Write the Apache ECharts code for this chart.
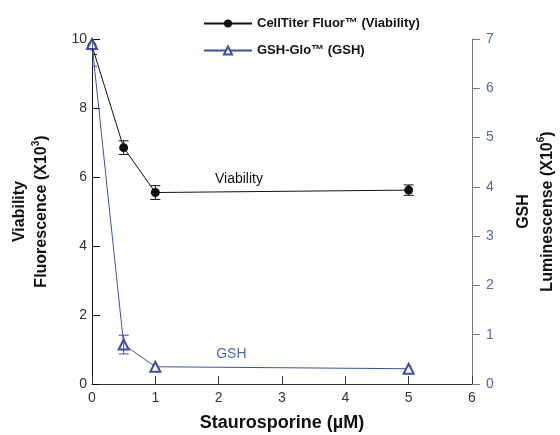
<!DOCTYPE html>
<html><head><meta charset="utf-8">
<script src="https://cdn.jsdelivr.net/npm/echarts@6/dist/echarts.min.js"></script>
<style>html,body{margin:0;padding:0;background:#fff}#c{width:560px;height:435px}</style>
</head><body><div id="c"></div>
<script>
const doses = [0, 0.5, 1, 5];
const viability = [9.8, 6.85, 5.55, 5.62];
const viabilityErr = [0.25, 0.2, 0.2, 0.15];
const gsh = [6.9, 0.8, 0.35, 0.31];
const gshErr = [0.45, 0.19, 0, 0];
const xTicks = [0, 1, 2, 3, 4, 5, 6];

const BLUE = '#3b4fa8';
const LBLUE = '#5366b8';
const NARROW = '"Liberation Sans Narrow", "Liberation Sans", Arial, sans-serif';
const SANS = '"Liberation Sans", Arial, sans-serif';

function errSeries(vals, errs, yIdx, color) {
  return {
    type: 'custom', yAxisIndex: yIdx, silent: true, z: 5, clip: true,
    data: doses.map((d, i) => [d, vals[i], errs[i]]),
    renderItem: function (params, api) {
      const x = api.value(0), y = api.value(1), e = api.value(2);
      if (!e) return null;
      const top = api.coord([x, y + e]);
      const bot = api.coord([x, y - e]);
      const w = 5;
      const st = {stroke: color, lineWidth: 1};
      return {type: 'group', children: [
        {type: 'line', shape: {x1: top[0], y1: top[1], x2: bot[0], y2: bot[1]}, style: st},
        {type: 'line', shape: {x1: top[0] - w, y1: top[1], x2: top[0] + w, y2: top[1]}, style: st},
        {type: 'line', shape: {x1: bot[0] - w, y1: bot[1], x2: bot[0] + w, y2: bot[1]}, style: st}
      ]};
    }
  };
}

function richName(size, lh) {
  return {rich: {
    b: {fontFamily: NARROW, fontWeight: 'bold', fontSize: size, color: '#111', lineHeight: lh},
    s: {fontFamily: NARROW, fontWeight: 'bold', fontSize: 10, color: '#111', verticalAlign: 'top', lineHeight: lh}
  }};
}

const chart = echarts.init(document.getElementById('c'));
chart.setOption({
  animation: false,
  grid: {left: 92, right: 88, top: 39, bottom: 51, outerBoundsMode: 'none', containLabel: false},
  legend: {
    orient: 'vertical', left: 198, top: 12, itemGap: 14,
    itemWidth: 48, itemHeight: 10,
    textStyle: {fontFamily: NARROW, fontWeight: 'bold', fontSize: 13, color: '#111'},
    data: ['CellTiter Fluor™ (Viability)', 'GSH-Glo™ (GSH)']
  },
  xAxis: {
    type: 'value', min: 0, max: 6, interval: 1,
    name: 'Staurosporine (µM)', nameLocation: 'middle', nameGap: 30,
    nameTextStyle: {fontFamily: NARROW, fontWeight: 'bold', fontSize: 18, color: '#111'},
    axisLine: {lineStyle: {color: '#333'}},
    axisTick: {inside: true, length: 8, lineStyle: {color: '#333'}},
    axisLabel: {color: '#333', fontSize: 14, fontFamily: SANS, margin: 7},
    splitLine: {show: false}
  },
  yAxis: [{
    type: 'value', min: 0, max: 10, interval: 2,
    name: '{b|Viability}\n{b|Fluorescence (X10}{s|3}{b|)}',
    nameLocation: 'middle', nameGap: 39, nameRotate: 90,
    nameTextStyle: richName(16, 22),
    axisLine: {show: true, lineStyle: {color: '#111'}},
    axisTick: {inside: true, length: 8, lineStyle: {color: '#111'}},
    axisLabel: {color: '#333', fontSize: 14, fontFamily: SANS, margin: 5},
    splitLine: {show: false}
  }, {
    type: 'value', min: 0, max: 7, interval: 1, position: 'right',
    name: '{b|GSH}\n{b|Luminescense (X10}{s|6}{b|)}',
    nameLocation: 'middle', nameGap: 40, nameRotate: 90,
    nameTextStyle: richName(16, 24),
    axisLine: {show: true, lineStyle: {color: '#777'}},
    axisTick: {inside: false, length: 8, lineStyle: {color: '#777'}},
    axisLabel: {color: LBLUE, fontSize: 14, fontFamily: SANS, margin: 14},
    splitLine: {show: false}
  }],
  series: [
    errSeries(viability, viabilityErr, 0, '#111'),
    errSeries(gsh, gshErr, 1, BLUE),
    {
      name: 'CellTiter Fluor™ (Viability)', type: 'line', yAxisIndex: 0, z: 4,
      data: doses.map((d, i) => [d, viability[i]]),
      symbol: 'circle', symbolSize: 9,
      lineStyle: {color: '#111', width: 1},
      itemStyle: {color: '#111'},
      markPoint: {
        symbol: 'circle', symbolSize: 0,
        label: {show: true, formatter: 'Viability', color: '#111', fontSize: 14, fontFamily: SANS, position: 'inside'},
        data: [{coord: [2.32, 5.93]}]
      }
    },
    {
      name: 'GSH-Glo™ (GSH)', type: 'line', yAxisIndex: 1, z: 4,
      data: doses.map((d, i) => [d, gsh[i]]),
      symbol: 'emptyTriangle', symbolSize: 10,
      lineStyle: {color: BLUE, width: 1},
      itemStyle: {color: BLUE, borderColor: BLUE, borderWidth: 1},
      markPoint: {
        symbol: 'circle', symbolSize: 0,
        label: {show: true, formatter: 'GSH', color: LBLUE, fontSize: 14, fontFamily: SANS, position: 'inside'},
        data: [{coord: [2.2, 0.61]}]
      }
    }
  ]
});
</script></body></html>
